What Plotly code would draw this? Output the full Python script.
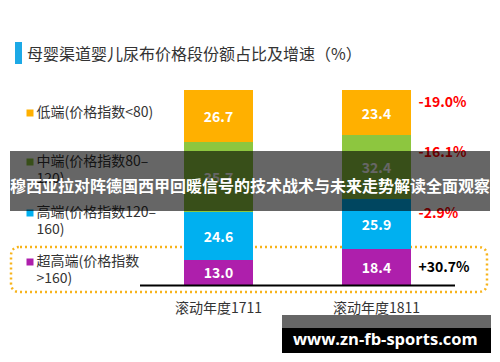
import plotly.graph_objects as go

# ---------------- data ----------------
categories = ["滚动年度1711", "滚动年度1811"]
segments = ["超高端", "高端", "中端", "低端"]          # stacked bottom -> top
share_1711 = [13.0, 24.6, 35.7, 26.7]
share_1811 = [18.4, 25.9, 32.4, 23.4]
growth_labels = ["+30.7%", "-2.9%", "-16.1%", "-19.0%"]  # same order as segments
legend_lines = [
    ["低端(价格指数&lt;80)"],
    ["中端(价格指数80–", "120)"],
    ["高端(价格指数120–", "160)"],
    ["超高端(价格指数", "&gt;160)"],
]                                                      # top -> bottom
title_text = "母婴渠道婴儿尿布价格段份额占比及增速（%）"
banner_text = "穆西亚拉对阵德国西甲回暖信号的技术战术与未来走势解读全面观察"
watermark_text = "www.zn-fb-sports.com"

# ---------------- style / geometry (page pixels) ----------------
colors = {"超高端": "#AE1FAC", "高端": "#00B0F0", "中端": "#8DC63F", "低端": "#FFB000"}
FONT = "Noto Sans CJK SC, Noto Sans, sans-serif"
OFF = 8                      # browser body margin
W, H = 500 - OFF, 362 - OFF  # figure size
T, B = 88, 285               # plot area top / bottom (page px)
YMAX = 101.0
UNIT = 158.0                 # px per category step
C0 = 218.5                   # page x of first category centre


def dx(px):
    return (px - C0) / UNIT


def dy(py):
    return (B - py) / (B - T) * YMAX


def pxp(px):
    return (px - OFF) / W


def pyp(py):
    return (B - py) / (B - T)


fig = go.Figure()

for i, seg in enumerate(segments):
    vals = [share_1711[i], share_1811[i]]
    fig.add_trace(go.Bar(
        x=[0, 1], y=vals, name=seg, width=69 / UNIT,
        marker=dict(color=colors[seg], line=dict(width=0)),
        text=[f"{v:.1f}" for v in vals], textposition="inside",
        insidetextanchor="middle", textangle=0, constraintext="none",
        textfont=dict(color="white", size=14, family=FONT, weight="bold"),
        cliponaxis=False, showlegend=False, hoverinfo="skip",
    ))

# growth labels next to the second bar
tops = []
acc = 0
for v in share_1811:
    acc += v
    tops.append(acc)
growth_dy_px = [18.9, 16.4, 18.5, 13.3]
gy = [t - d / (B - T) * YMAX for t, d in zip(tops, growth_dy_px)]
fig.add_trace(go.Scatter(
    x=[dx(418.5)] * len(growth_labels), y=gy, mode="text",
    text=growth_labels, textposition="middle right",
    textfont=dict(size=14, family=FONT, weight="bold",
                  color=["#000000" if g.startswith("+") else "#FF0000" for g in growth_labels]),
    cliponaxis=False, showlegend=False, hoverinfo="skip",
))

# custom legend on the left
row_y = [113, 162, 213, 262]
legend_order = list(reversed(segments))
sq_x, sq_y, sq_c = [], [], []
tx, ty, tt = [], [], []
for k, lines in enumerate(legend_lines):
    sq_x.append(dx(30))
    sq_y.append(dy(row_y[k]))
    sq_c.append(colors[legend_order[k]])
    for j, line in enumerate(lines):
        tx.append(dx(36.5))
        ty.append(dy(row_y[k] + 17.5 * j))
        tt.append(line)
fig.add_trace(go.Scatter(
    x=sq_x, y=sq_y, mode="markers",
    marker=dict(symbol="square", size=7, color=sq_c, line=dict(width=0)),
    cliponaxis=False, showlegend=False, hoverinfo="skip",
))
fig.add_trace(go.Scatter(
    x=tx, y=ty, mode="text", text=tt, textposition="middle right",
    textfont=dict(size=14, family=FONT, color="#333333"),
    cliponaxis=False, showlegend=False, hoverinfo="skip",
))

shapes = []
# baseline
shapes.append(dict(type="line", xref="paper", yref="paper",
                   x0=pxp(140), x1=pxp(455), y0=pyp(285.5), y1=pyp(285.5),
                   line=dict(color="black", width=2), layer="above"))
# title accent bar
shapes.append(dict(type="rect", xref="paper", yref="paper",
                   x0=pxp(15), x1=pxp(22), y0=pyp(64), y1=pyp(42),
                   fillcolor="#1CA9E6", line=dict(width=0), layer="above"))


# dotted rounded rectangle
def rounded(x0, y0, x1, y1, r):
    X = pxp
    Y = pyp
    return (f"M {X(x0 + r)},{Y(y0)} L {X(x1 - r)},{Y(y0)} "
            f"Q {X(x1)},{Y(y0)} {X(x1)},{Y(y0 + r)} L {X(x1)},{Y(y1 - r)} "
            f"Q {X(x1)},{Y(y1)} {X(x1 - r)},{Y(y1)} L {X(x0 + r)},{Y(y1)} "
            f"Q {X(x0)},{Y(y1)} {X(x0)},{Y(y1 - r)} L {X(x0)},{Y(y0 + r)} "
            f"Q {X(x0)},{Y(y0)} {X(x0 + r)},{Y(y0)} Z")


shapes.append(dict(type="path", xref="paper", yref="paper",
                   path=rounded(11, 247, 487, 292, 9),
                   line=dict(color="#F7B31A", width=2.5, dash="2px,3px"), layer="below"))
# overlay banner
shapes.append(dict(type="rect", xref="paper", yref="paper",
                   x0=pxp(10), x1=pxp(490), y0=pyp(211), y1=pyp(151),
                   fillcolor="rgba(0,0,0,0.6)", line=dict(width=0), layer="above"))
# watermark boxes
shapes.append(dict(type="rect", xref="paper", yref="paper",
                   x0=pxp(282), x1=pxp(491), y0=pyp(328), y1=pyp(315),
                   fillcolor="#666666", line=dict(width=0), layer="above"))
shapes.append(dict(type="rect", xref="paper", yref="paper",
                   x0=pxp(282), x1=pxp(491), y0=pyp(353), y1=pyp(328),
                   fillcolor="#000000", line=dict(width=0), layer="above"))

annotations = [
    dict(text=title_text, xref="paper", yref="paper", x=pxp(25), y=pyp(53),
         xanchor="left", yanchor="middle", showarrow=False,
         font=dict(size=16, family=FONT, color="#333333")),
    dict(text=banner_text, xref="paper", yref="paper", x=pxp(250), y=pyp(185),
         xanchor="center", yanchor="middle", showarrow=False,
         font=dict(size=16, family=FONT, color="white", weight="bold")),
    dict(text=watermark_text, xref="paper", yref="paper", x=pxp(385.5), y=pyp(338),
         xanchor="center", yanchor="middle", showarrow=False,
         font=dict(size=16.5, family="Open Sans, sans-serif", color="white", weight="bold")),
]

fig.update_layout(
    width=W, height=H, barmode="stack",
    margin=dict(l=0, r=0, t=T - OFF, b=H - (B - OFF), pad=0),
    paper_bgcolor="white", plot_bgcolor="white",
    shapes=shapes, annotations=annotations,
    xaxis=dict(range=[dx(OFF), dx(500)], tickvals=[0, 1], ticktext=categories,
               showgrid=False, zeroline=False, showline=False,
               ticks="", ticklabelstandoff=13,
               tickfont=dict(size=14, family=FONT, color="#333333"), fixedrange=True),
    yaxis=dict(range=[0, YMAX], visible=False, showgrid=False, zeroline=False, fixedrange=True),
    font=dict(family=FONT),
)

fig.write_html("out.html")
